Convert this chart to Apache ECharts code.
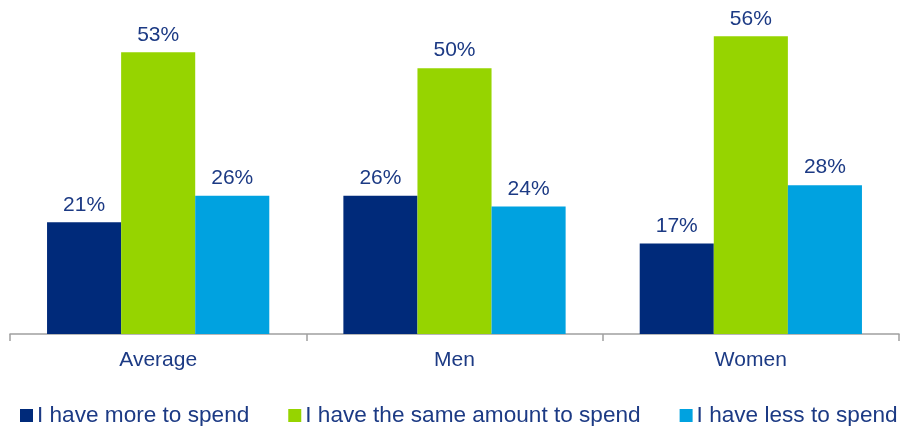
<!DOCTYPE html>
<html>
<head>
<meta charset="utf-8">
<script src="https://cdn.jsdelivr.net/npm/echarts@6/dist/echarts.min.js"></script>
<style>
  html, body { margin: 0; padding: 0; background: #ffffff; }
  #chart { width: 903px; height: 426px; }
</style>
</head>
<body>
<div id="chart"></div>
<script>
// Spending intentions by group (percent of respondents)
const categories = ['Average', 'Men', 'Women'];
const seriesNames = ['I have more to spend', 'I have the same amount to spend', 'I have less to spend'];
const moreToSpend = [21, 26, 17];
const sameAmount = [53, 50, 56];
const lessToSpend = [26, 24, 28];

const colors = ['#002A7A', '#96D400', '#00A2E0'];
const textColor = '#1C3A84';
const fontFamily = '"Liberation Sans", Arial, sans-serif';

const chart = echarts.init(document.getElementById('chart'));

function makeSeries(name, data, color) {
  return {
    name: name,
    type: 'bar',
    data: data,
    barGap: '0%',
    barCategoryGap: '25%',
    itemStyle: { color: color },
    label: {
      show: true,
      position: 'top',
      distance: 7,
      formatter: '{c}%',
      color: textColor,
      fontSize: 21,
      fontFamily: fontFamily
    }
  };
}

chart.setOption({
  animation: false,
  color: colors,
  grid: { left: 10, right: 4, top: 15, bottom: 92, containLabel: false },
  legend: {
    top: 404,
    left: 20,
    padding: 0,
    itemWidth: 13,
    itemHeight: 13,
    itemGap: 39,
    icon: 'rect',
    textStyle: { color: textColor, fontSize: 22.6, fontFamily: fontFamily, padding: [0, 0, 0, -1] },
    data: seriesNames
  },
  xAxis: {
    type: 'category',
    data: categories,
    axisLine: { lineStyle: { color: '#A0A0A0', width: 1.5 } },
    axisTick: { show: true, length: 7, lineStyle: { color: '#A0A0A0', width: 1.5 } },
    axisLabel: { color: textColor, fontSize: 21, fontFamily: fontFamily, margin: 16 }
  },
  yAxis: {
    type: 'value',
    min: 0,
    max: 60,
    show: false,
    splitLine: { show: false }
  },
  series: [
    makeSeries(seriesNames[0], moreToSpend, colors[0]),
    makeSeries(seriesNames[1], sameAmount, colors[1]),
    makeSeries(seriesNames[2], lessToSpend, colors[2])
  ]
});
</script>
</body>
</html>
